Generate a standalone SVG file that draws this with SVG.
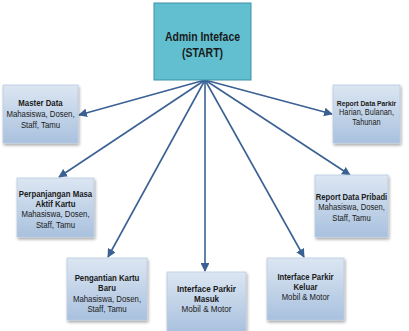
<svg xmlns="http://www.w3.org/2000/svg" width="409" height="331" viewBox="0 0 409 331">
<defs>
<linearGradient id="g" x1="0" y1="0" x2="0" y2="1">
<stop offset="0" stop-color="#dce6f2"/>
<stop offset="1" stop-color="#a9c1de"/>
</linearGradient>
<filter id="sh" x="-10%" y="-10%" width="130%" height="130%">
<feGaussianBlur in="SourceAlpha" stdDeviation="1.5"/>
<feOffset dx="1" dy="2"/>
<feComponentTransfer><feFuncA type="linear" slope="0.35"/></feComponentTransfer>
<feMerge><feMergeNode/><feMergeNode in="SourceGraphic"/></feMerge>
</filter>
<marker id="ah" viewBox="0 0 10 10" refX="9" refY="5" markerWidth="5.5" markerHeight="5.5" orient="auto" markerUnits="strokeWidth">
<path d="M0,0 L10,5 L0,10 z" fill="#3b6194"/>
</marker>
</defs>
<style>
.box{fill:url(#g);stroke:#b9cbe0;stroke-width:0.8;filter:url(#sh)}
.start{fill:#62bfd0;stroke:#3d93a8;stroke-width:1}
text{font-family:"Liberation Sans",Arial,sans-serif;text-anchor:middle;fill:#1a1a1a}
.b{font-weight:bold}
.t{font-size:9px}
.h{font-size:12.5px;font-weight:bold}
.c{stroke:#3b6194;stroke-width:1.6;fill:none;marker-end:url(#ah)}
</style>
<rect width="409" height="331" fill="#ffffff"/>
<g id="connectors">
<line class="c" x1="205" y1="80" x2="79" y2="115"/>
<line class="c" x1="205" y1="80" x2="59" y2="177"/>
<line class="c" x1="205" y1="80" x2="108" y2="257"/>
<line class="c" x1="205" y1="80" x2="205" y2="271"/>
<line class="c" x1="205" y1="80" x2="304" y2="257"/>
<line class="c" x1="205" y1="80" x2="350" y2="175"/>
<line class="c" x1="205" y1="80" x2="332" y2="114"/>
</g>
<g id="admin">
<rect class="start" x="154" y="3" width="97" height="77"/>
<g transform="translate(202.5,0) scale(0.84,1)">
<text class="h" x="0" y="41">Admin Inteface</text>
<text class="h" x="0" y="57">(START)</text>
</g>
</g>
<g id="master-data">
<rect class="box" x="3" y="85" width="75" height="58"/>
<g transform="translate(40.5,0) scale(0.87,1)">
<text class="t b" x="0" y="106">Master Data</text>
<text class="t" x="0" y="117">Mahasiswa, Dosen,</text>
<text class="t" x="0" y="128.5">Staff, Tamu</text>
</g>
</g>
<g id="perpanjangan">
<rect class="box" x="17" y="178" width="77" height="59"/>
<g transform="translate(55.5,0) scale(0.87,1)">
<text class="t b" x="0" y="197">Perpanjangan Masa</text>
<text class="t b" x="0" y="207">Aktif Kartu</text>
<text class="t" x="0" y="217.5">Mahasiswa, Dosen,</text>
<text class="t" x="0" y="228">Staff, Tamu</text>
</g>
</g>
<g id="pengantian">
<rect class="box" x="67" y="258" width="80" height="62"/>
<g transform="translate(107,0) scale(0.87,1)">
<text class="t b" x="0" y="281">Pengantian Kartu</text>
<text class="t b" x="0" y="291">Baru</text>
<text class="t" x="0" y="302">Mahasiswa, Dosen,</text>
<text class="t" x="0" y="312.5">Staff, Tamu</text>
</g>
</g>
<g id="parkir-masuk">
<rect class="box" x="167" y="272" width="79" height="60"/>
<g transform="translate(206.5,0) scale(0.9,1)">
<text class="t b" x="0" y="292">Interface Parkir</text>
<text class="t b" x="0" y="302">Masuk</text>
<text class="t" x="0" y="312">Mobil &amp; Motor</text>
</g>
</g>
<g id="parkir-keluar">
<rect class="box" x="267" y="258" width="77" height="62"/>
<g transform="translate(305.5,0) scale(0.86,1)">
<text class="t b" x="0" y="280">Interface Parkir</text>
<text class="t b" x="0" y="290">Keluar</text>
<text class="t" x="0" y="300">Mobil &amp; Motor</text>
</g>
</g>
<g id="report-pribadi">
<rect class="box" x="315" y="175" width="73" height="62"/>
<g transform="translate(351.5,0) scale(0.85,1)">
<text class="t b" x="0" y="200">Report Data Pribadi</text>
<text class="t" x="0" y="210.5">Mahasiswa, Dosen,</text>
<text class="t" x="0" y="221">Staff, Tamu</text>
</g>
</g>
<g id="report-parkir">
<rect class="box" x="333" y="85" width="67" height="58"/>
<g transform="translate(366.5,0) scale(0.87,1)">
<text class="t b" x="0" y="106" style="font-size:7.8px">Report Data Parkir</text>
<text class="t" x="0" y="115.5" style="font-size:8.5px">Harian, Bulanan,</text>
<text class="t" x="0" y="125.5" style="font-size:8.5px">Tahunan</text>
</g>
</g>
</svg>
